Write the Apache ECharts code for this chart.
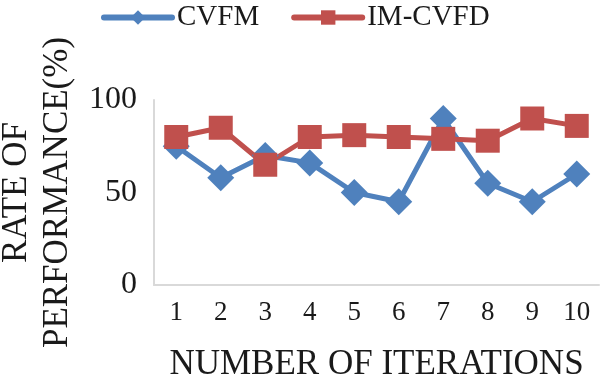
<!DOCTYPE html>
<html>
<head>
<meta charset="utf-8">
<script src="https://cdn.jsdelivr.net/npm/echarts@6/dist/echarts.min.js"></script>
<style>
  html, body { margin: 0; padding: 0; background: #fff; }
  #chart { width: 600px; height: 381px; }
</style>
</head>
<body>
<div id="chart"></div>
<script>
var iterations = ['1', '2', '3', '4', '5', '6', '7', '8', '9', '10'];
var cvfm = [75, 58, 70, 66, 50, 45, 90, 55, 45, 60];
var imCvfd = [80, 85, 65, 80, 81, 80, 79, 78, 90, 86];

var font = '"Liberation Serif", "Times New Roman", serif';
var ink = '#1a1a1a';

var myChart = echarts.init(document.getElementById('chart'));
var option = {
  animation: false,
  textStyle: { fontFamily: font, color: ink },
  legend: {
    top: 3,
    left: 101,
    padding: 0,
    itemWidth: 68,
    itemHeight: 18,
    itemGap: 32,
    lineStyle: { width: 6, cap: 'round' },
    textStyle: { fontFamily: font, fontSize: 29, color: ink },
    data: ['CVFM', 'IM-CVFD']
  },
  grid: { left: 154, right: 1, top: 100, bottom: 96, outerBoundsMode: 'none', containLabel: false },
  xAxis: {
    type: 'category',
    data: iterations,
    name: 'NUMBER OF ITERATIONS',
    nameLocation: 'middle',
    nameGap: 62,
    nameTextStyle: { fontFamily: font, fontSize: 35, color: ink },
    axisLine: { lineStyle: { color: '#d9d9d9', width: 2 } },
    axisTick: { show: false },
    axisLabel: { fontFamily: font, fontSize: 27, color: ink, margin: 14 }
  },
  yAxis: {
    type: 'value',
    min: 0,
    max: 100,
    interval: 50,
    name: 'RATE OF\nPERFORMANCE(%)',
    nameLocation: 'middle',
    nameRotate: 90,
    nameGap: 73,
    nameTextStyle: { fontFamily: font, fontSize: 35, color: ink, lineHeight: 41 },
    axisLine: { show: true, lineStyle: { color: '#d9d9d9', width: 2 } },
    axisTick: { show: false },
    splitLine: { show: false },
    axisLabel: { fontFamily: font, fontSize: 32, color: ink, margin: 17 }
  },
  series: [
    {
      name: 'CVFM',
      type: 'line',
      data: cvfm,
      symbol: 'diamond',
      symbolSize: 27,
      color: '#4f81bd',
      lineStyle: { width: 5, color: '#4f81bd' },
      itemStyle: { color: '#4f81bd' }
    },
    {
      name: 'IM-CVFD',
      type: 'line',
      data: imCvfd,
      symbol: 'rect',
      symbolSize: 24,
      color: '#c0504d',
      lineStyle: { width: 5, color: '#c0504d' },
      itemStyle: { color: '#c0504d' }
    }
  ]
};
myChart.setOption(option);
</script>
</body>
</html>
